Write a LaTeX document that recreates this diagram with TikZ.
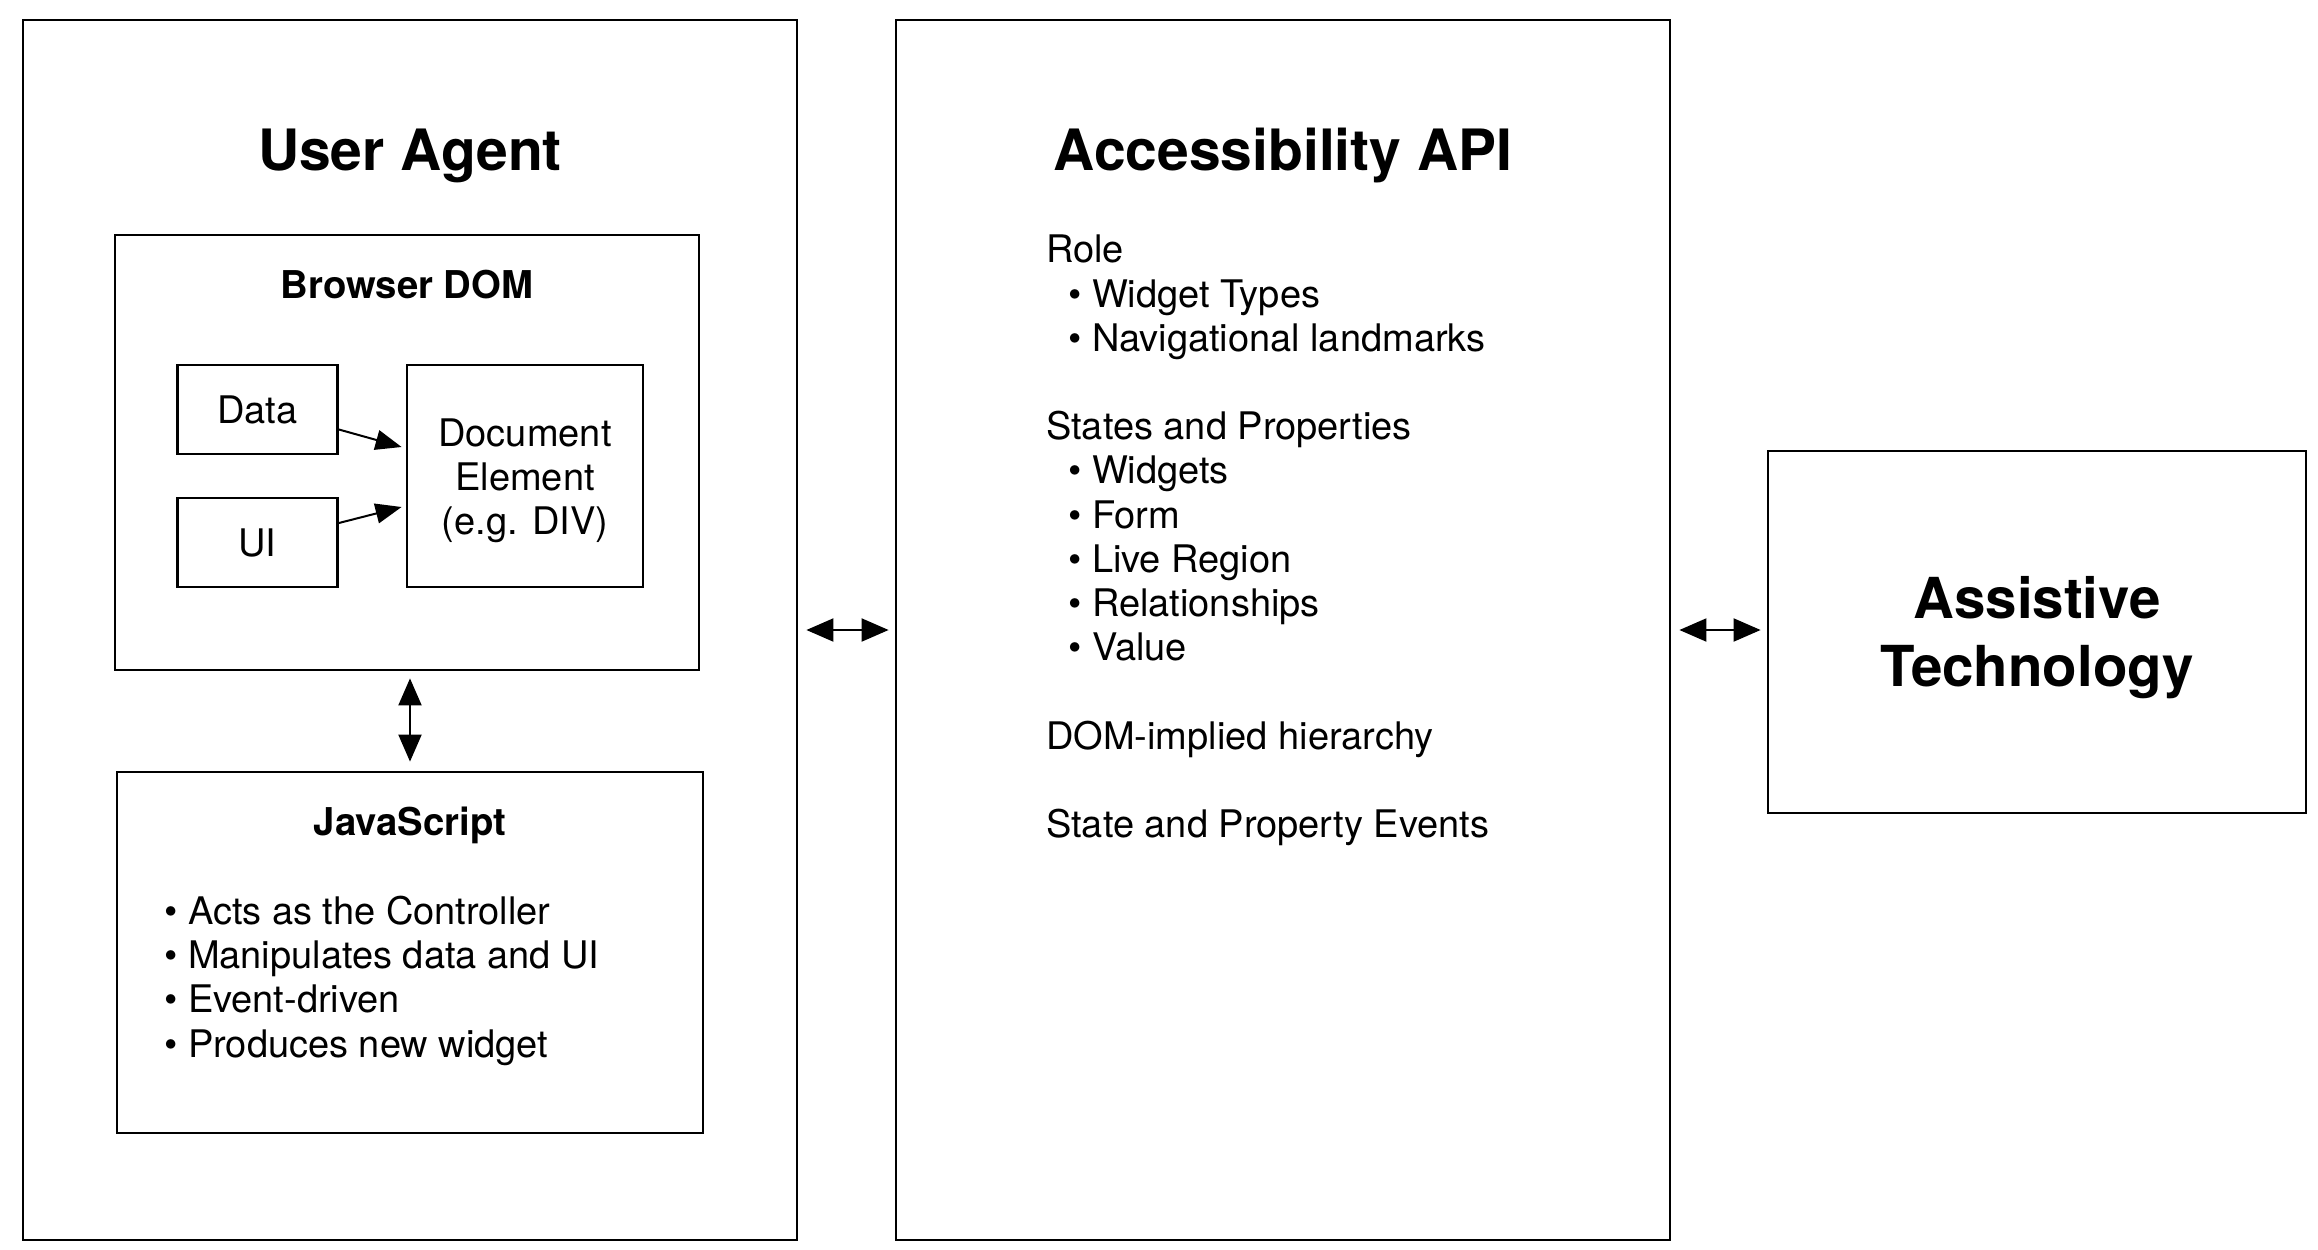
\documentclass[tikz,border=0pt]{standalone}
\usepackage{fontspec}
\setmainfont{TeX Gyre Heros}
\usetikzlibrary{arrows.meta}

\begin{document}
\begin{tikzpicture}[x=1pt, y=-1pt,
    box/.style={draw, line width=2.8pt, inner sep=0pt},
    title/.style={font=\fontsize{57}{68}\selectfont\bfseries, anchor=base},
    subtitle/.style={font=\fontsize{38.3}{44}\selectfont\bfseries, anchor=base},
    body/.style={font=\fontsize{38}{44.2}\selectfont},
    arr/.style={line width=2pt, -{Triangle[length=26pt,width=20pt]}},
    dblarr/.style={line width=2pt, {Triangle[length=27pt,width=23pt]}-{Triangle[length=27pt,width=23pt]}}]
  \useasboundingbox (0,0) rectangle (2318,1250);

  \node[box, minimum width=774pt, minimum height=1220pt] (ua) at (410,630) {};
  \node[title] (uatitle) at (410,170) {User Agent};
  \node[box, minimum width=584pt, minimum height=435pt] (dom) at (407,452.5) {};
  \node[subtitle] (domtitle) at (407,298) {Browser DOM};
  \node[box, body, minimum width=160pt, minimum height=89pt] (data) at (257.5,409.5) {Data};
  \node[box, body, minimum width=160pt, minimum height=89pt] (ui) at (257.5,542.5) {UI};
  \node[box, minimum width=236pt, minimum height=222pt] (doc) at (525,476) {};
  \node[body, align=center, inner sep=0pt] (doctext) at (525,481) {Document\\Element\\(e.g. DIV)};
  \draw[arr] ([yshift=-20pt]data.east) -- ([xshift=-4pt,yshift=29pt]doc.west);
  \draw[arr] ([yshift=19.5pt]ui.east) -- ([xshift=-4pt,yshift=-31pt]doc.west);

  \node[box, minimum width=586pt, minimum height=361pt] (js) at (410,952.5) {};
  \node[subtitle] (jstitle) at (410,835) {JavaScript};
  \node[body, inner sep=0pt, anchor=north west, align=left] (jstext) at (164,896) {• Acts as the Controller\\
    • Manipulates data and UI\\
    • Event-driven\\
    • Produces new widget};
  \draw[dblarr, shorten <=7pt, shorten >=9pt] (js.north |- dom.south) -- (js.north);

  \node[box, minimum width=774pt, minimum height=1220pt] (api) at (1283,630) {};
  \node[title] (apititle) at (1283,170) {Accessibility API};
  \node[body, inner sep=0pt, anchor=north west, align=left] (apitext) at (1046,235) {Role\\
    \hspace*{22pt}• Widget Types\\
    \hspace*{22pt}• Navigational landmarks\\[44.2pt]
    States and Properties\\
    \hspace*{22pt}• Widgets\\
    \hspace*{22pt}• Form\\
    \hspace*{22pt}• Live Region\\
    \hspace*{22pt}• Relationships\\
    \hspace*{22pt}• Value\\[44.2pt]
    DOM-implied hierarchy\\[44.2pt]
    State and Property Events};

  \node[box, minimum width=538pt, minimum height=362pt] (at) at (2037,632) {};
  \node[font=\fontsize{56.5}{68}\selectfont\bfseries, align=center, inner sep=0pt] (attext) at (2037,638) {Assistive\\Technology};

  \draw[dblarr, shorten <=8pt, shorten >=6pt] (ua.east) -- (api.west);
  \draw[dblarr, shorten <=8pt, shorten >=6pt] (api.east) -- (api.east -| at.west);
\end{tikzpicture}
\end{document}
